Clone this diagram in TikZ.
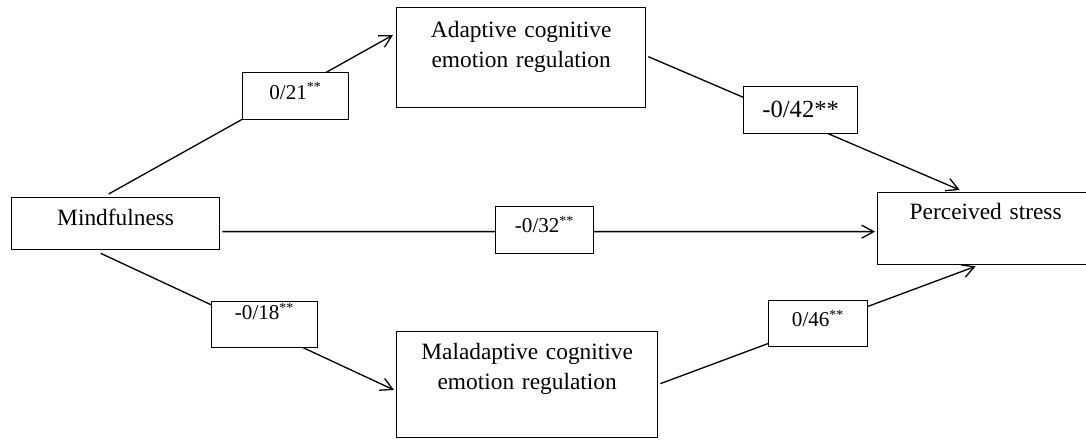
\documentclass[tikz,border=0pt]{standalone}
\usepackage{fontspec}
\setmainfont{Liberation Serif}
\usetikzlibrary{arrows.meta}

\begin{document}
\begin{tikzpicture}[>={Straight Barb[length=2.4mm,width=2.6mm]},
		line width=0.75pt,
		main node/.style = {rectangle,draw,anchor=north west,inner sep=0pt,align=center,font=\fontsize{13.3}{17}\selectfont},
		coef node/.style = {rectangle,draw,fill=white,anchor=north west,inner sep=0pt,align=center,font=\fontsize{12}{14}\selectfont}]

		\useasboundingbox (0,0) rectangle (21.72,8.78);

		\node[main node,text width=4.16cm,text height=0.56cm,text depth=0.48cm] at (0.22,4.84) (1) {Mindfulness};
		\node[main node,text width=4.98cm,text height=0.60cm,text depth=1.40cm] at (7.92,8.64) (2) {Adaptive cognitive\\emotion regulation};
		\node[main node,text width=5.22cm,text height=0.56cm,text depth=1.56cm] at (7.92,2.16) (3) {Maladaptive cognitive\\emotion regulation};
		\node[main node,text width=4.32cm,text height=0.54cm,text depth=0.90cm] at (17.54,4.94) (4) {Perceived stress};

		\path[->]
		([xshift=-0.14cm,yshift=0.06cm]1.north) edge ([xshift=-0.06cm,yshift=-0.56cm]2.north west)
		([xshift=0.04cm,yshift=0.02cm]2.east) edge ([xshift=-0.52cm,yshift=0.04cm]4.north)
		([xshift=0.04cm,yshift=-0.16cm]1.east) edge ([xshift=-0.04cm,yshift=-0.06cm]4.west)
		([xshift=-0.30cm,yshift=-0.06cm]1.south) edge ([xshift=-0.04cm,yshift=-1.18cm]3.north west)
		([xshift=0.04cm,yshift=0.02cm]3.east) edge ([xshift=-0.20cm,yshift=-0.02cm]4.south);

		\node[coef node,text width=2.12cm,text height=0.54cm,text depth=0.40cm] at (4.84,7.34) (5) {0/21\textsuperscript{**}};
		\node[coef node,text width=2.28cm,text height=0.62cm,text depth=0.32cm,font=\fontsize{14}{16}\selectfont] at (14.86,7.06) (6) {-0/42**};
		\node[coef node,text width=1.96cm,text height=0.52cm,text depth=0.42cm] at (9.90,4.66) (7) {-0/32\textsuperscript{**}};
		\node[coef node,text width=2.12cm,text height=0.36cm,text depth=0.56cm] at (4.22,2.76) (8) {-0/18\textsuperscript{**}};
		\node[coef node,text width=1.98cm,text height=0.52cm,text depth=0.40cm] at (15.36,2.78) (9) {0/46\textsuperscript{**}};
		\end{tikzpicture}
\end{document}
